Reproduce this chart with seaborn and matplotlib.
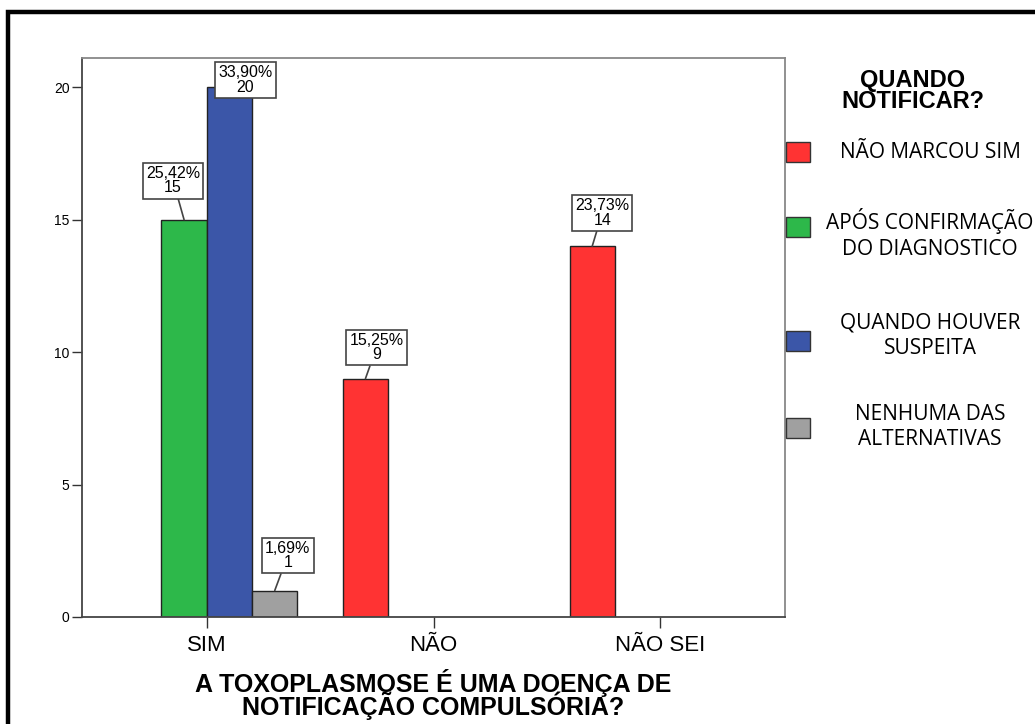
import matplotlib
matplotlib.use("Agg")
import matplotlib.pyplot as plt
from matplotlib.patches import Rectangle
import seaborn as sns
import pandas as pd

categorias = ["SIM", "NÃO", "NÃO SEI"]
quando_niveis = ["NÃO MARCOU SIM", "APÓS CONFIRMAÇÃO\nDO DIAGNOSTICO",
                 "QUANDO HOUVER\nSUSPEITA", "NENHUMA DAS\nALTERNATIVAS"]
cores = ["#ff3333", "#2db84a", "#3b56a8", "#a0a0a0"]

resposta = ["SIM", "SIM", "SIM", "NÃO", "NÃO SEI"]
quando = [quando_niveis[1], quando_niveis[2], quando_niveis[3], quando_niveis[0], quando_niveis[0]]
contagem = [15, 20, 1, 9, 14]
percentual = ["25,42%", "33,90%", "1,69%", "15,25%", "23,73%"]

df = pd.DataFrame({"resposta": resposta, "quando": quando,
                   "contagem": contagem, "percentual": percentual})

W, H = 1035, 724
sns.set_style("white")
plt.rcParams["font.family"] = ["Liberation Sans", "DejaVu Sans"]
plt.rcParams["text.color"] = "black"
plt.rcParams["xtick.color"] = "black"
plt.rcParams["ytick.color"] = "black"
plt.rcParams["axes.labelcolor"] = "black"

fig = plt.figure(figsize=(W / 100, H / 100), dpi=100)
ax = fig.add_axes([82 / W, 1 - 617 / H, (785 - 82) / W, (617 - 58) / H])

sns.barplot(data=df, x="resposta", y="contagem", hue="quando", order=categorias,
            hue_order=quando_niveis, palette=cores, saturation=1, width=0.8, gap=0,
            edgecolor="#222222", linewidth=1, legend=False, ax=ax)

ax.set_xlim(-0.55, 2.55)
ax.set_ylim(0, 21.1)
ax.set_yticks([0, 5, 10, 15, 20])
ax.set_xlabel("A TOXOPLASMOSE É UMA DOENÇA DE\nNOTIFICAÇÃO COMPULSÓRIA?",
              fontsize=18, fontweight="bold", linespacing=0.8, labelpad=9)
ax.set_ylabel("")
ax.tick_params(axis="y", labelsize=10, length=7, width=1, color="#333333", left=True, pad=2)
ax.tick_params(axis="x", labelsize=16, length=8, width=1, color="#333333", bottom=True, pad=5)
for lado, s in ax.spines.items():
    s.set_color("#444444" if lado in ("left", "bottom") else "#888888")
    s.set_linewidth(1.3)

# deslocamento dos rótulos (pixels) por barra
desloc = {("SIM", 15): (-11, 39), ("SIM", 20): (16, 7), ("SIM", 1): (13, 35),
          ("NÃO", 9): (11, 31), ("NÃO SEI", 14): (10, 33)}

for p in ax.patches:
    h = p.get_height()
    if not h or h <= 0:
        continue
    cx = p.get_x() + p.get_width() / 2
    cat = categorias[int(round(cx))]
    linha = df[(df.resposta == cat) & (df.contagem == h)]
    if linha.empty:
        continue
    pct = linha.percentual.iloc[0]
    dx, dy = desloc.get((cat, int(h)), (10, 33))
    ax.annotate(f"{pct}\n{int(h)}", xy=(cx, h), xytext=(dx, dy), textcoords="offset pixels",
                ha="center", va="center", fontsize=11.5, linespacing=0.95,
                bbox=dict(boxstyle="square,pad=0.2", fc="white", ec="#444444", lw=1.2),
                arrowprops=dict(arrowstyle="-", color="#444444", lw=1.2, shrinkA=0, shrinkB=0),
                annotation_clip=False, zorder=5)

# legenda manual
fig.text(913 / W, 1 - 91 / H, "QUANDO\nNOTIFICAR?", ha="center", va="center",
         fontsize=17, fontweight="bold", linespacing=0.88)
pos_patch = [152, 227, 341, 428]
pos_texto = [152, 234, 336, 427]
for nivel, cor, yp, yt in zip(quando_niveis, cores, pos_patch, pos_texto):
    fig.add_artist(Rectangle((786 / W, 1 - (yp + 10) / H), 24 / W, 20 / H,
                             transform=fig.transFigure, fc=cor, ec="#333333", lw=1))
    fig.text(930 / W, 1 - yt / H, nivel, ha="center", va="center", fontsize=15,
             family=["Open Sans", "DejaVu Sans"], linespacing=1.3)

# moldura preta
fig.add_artist(Rectangle((8 / W, -0.1), 1.2, 1 - 12 / H + 0.1, transform=fig.transFigure,
                         fill=False, ec="black", lw=3.2))

fig.savefig("out.png", dpi=100)
